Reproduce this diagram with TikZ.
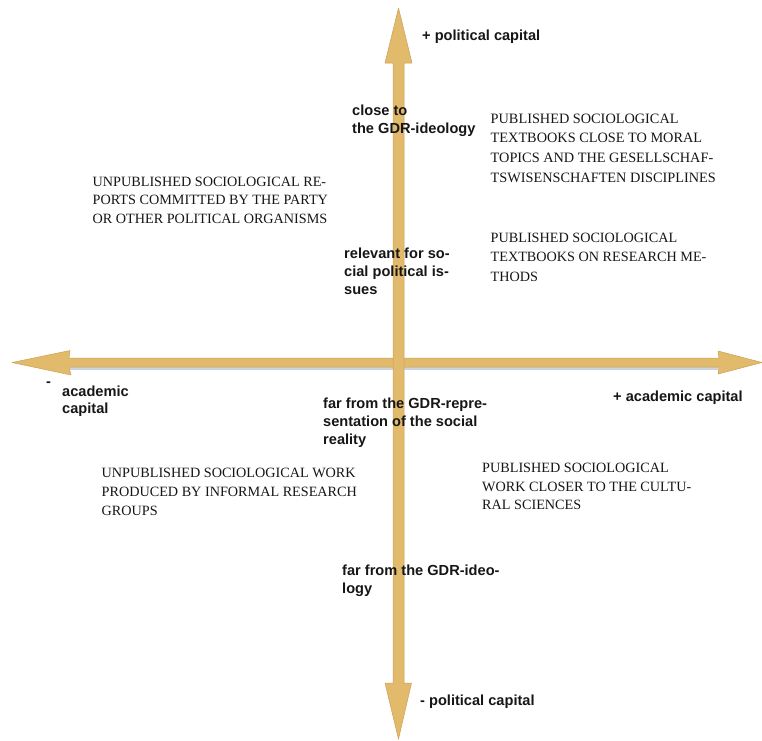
\documentclass[tikz,border=0pt]{standalone}
\usepackage{fontspec}
\setmainfont{Liberation Serif}
\setsansfont{Liberation Sans}
\definecolor{arrowc}{RGB}{226,186,108}
\definecolor{arrowedge}{RGB}{205,160,80}
\definecolor{shadowc}{RGB}{170,182,196}
\definecolor{txt}{RGB}{22,22,22}
\tikzset{
  serifblock/.style={font=\fontsize{14.2}{18.8}\selectfont, align=left, inner sep=0pt, anchor=north west, text=txt},
  sanslabel/.style={font=\sffamily\bfseries\fontsize{14.6}{18}\selectfont, align=left, inner sep=0pt, anchor=north west, text=txt},
  arrowbody/.style={fill=arrowc, draw=arrowedge, line width=0.5pt, line join=round}
}
\begin{document}
\begin{tikzpicture}[x=1pt,y=-1pt]
\useasboundingbox (0,0) rectangle (762,740);
% shadow of horizontal arrow
\fill[shadowc, opacity=0.6] (70,366) -- (718,366) -- (718,369.5) -- (70,369.5) -- cycle;
% horizontal arrow
\path[arrowbody] (12,362.5) -- (70,350.5) -- (69,358) -- (719,358) -- (718,351) -- (762,362.5)
  -- (718,374) -- (719,367) -- (69,367) -- (71,375) -- cycle;
% vertical arrow
\path[arrowbody] (398.5,8) -- (412,63) -- (404,63) -- (404,683) -- (411.5,683) -- (398.5,739)
  -- (385,683) -- (393,683) -- (393,63) -- (385,63) -- cycle;

% sans labels
\node[sanslabel] (pluspol) at (422,30) {+ political capital};
\node[sanslabel] (minuspol) at (420,695) {- political capital};
\node[sanslabel] (plusacad) at (613,390.5) {+ academic capital};
\node[sanslabel, font=\sffamily\bfseries\fontsize{14.6}{17}\selectfont] (minusacad) at (62,386) {academic\\capital};
\node[font=\sffamily\bfseries\fontsize{14.6}{18}\selectfont, inner sep=0pt, text=txt] (minussign) at (48.5,384) {-};
\node[sanslabel] (closeto) at (352,104.5) {close to\\the GDR-ideology};
\node[sanslabel] (relevant) at (344,248) {relevant for so-\\cial political is-\\sues};
\node[sanslabel] (farrepr) at (323,397.5) {far from the GDR-repre-\\sentation of the social\\reality};
\node[sanslabel] (farideo) at (342,565) {far from the GDR-ideo-\\logy};

% serif blocks
\node[serifblock, font=\fontsize{14.2}{18.3}\selectfont] (ul) at (92.5,177) {UNPUBLISHED SOCIOLOGICAL RE-\\PORTS COMMITTED BY THE PARTY\\OR OTHER POLITICAL ORGANISMS};
\node[serifblock, font=\fontsize{14.3}{19.8}\selectfont] (ur1) at (490.5,113.5) {PUBLISHED SOCIOLOGICAL\\TEXTBOOKS CLOSE TO MORAL\\TOPICS AND THE GESELLSCHAF-\\TSWISENSCHAFTEN DISCIPLINES};
\node[serifblock, font=\fontsize{14.2}{19.3}\selectfont] (ur2) at (490.5,233) {PUBLISHED SOCIOLOGICAL\\TEXTBOOKS ON RESEARCH ME-\\THODS};
\node[serifblock, font=\fontsize{14.2}{19.2}\selectfont] (ll) at (101.5,467.5) {UNPUBLISHED SOCIOLOGICAL WORK\\PRODUCED BY INFORMAL RESEARCH\\GROUPS};
\node[serifblock, font=\fontsize{14.2}{18.5}\selectfont] (lr) at (482,463) {PUBLISHED SOCIOLOGICAL\\WORK CLOSER TO THE CULTU-\\RAL SCIENCES};
\end{tikzpicture}
\end{document}
